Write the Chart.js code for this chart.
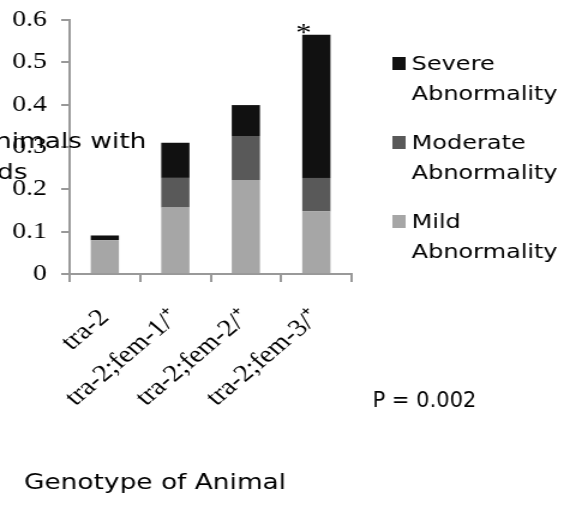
<!DOCTYPE html>
<html>
<head>
<meta charset="utf-8">
<script src="https://cdn.jsdelivr.net/npm/chart.js@4.4.1/dist/chart.umd.min.js"></script>
<style>
  html, body { margin: 0; padding: 0; background: #fff; }
  /* the canvas is drawn narrower and shown wider, like the stretched original */
  #chartGonads { display: block; width: 564px !important; height: 514px !important; }
</style>
</head>
<body>
<canvas id="chartGonads" width="470" height="514"></canvas>
<script>
// data
const genotypes = ['tra-2', 'tra-2;fem-1/⁺', 'tra-2;fem-2/⁺', 'tra-2;fem-3/⁺'];
const mild     = [0.080, 0.157, 0.222, 0.148];
const moderate = [0.000, 0.070, 0.104, 0.079];
const severe   = [0.011, 0.083, 0.073, 0.338];
const seriesNames  = ['Mild Abnormality', 'Moderate Abnormality', 'Severe Abnormality'];
const seriesColors = ['#a6a6a6', '#595959', '#111111'];
const yMin = 0, yMax = 0.6, yStep = 0.1;

const yTitle = ['Fraction of animals with', 'abnormal gonads'];
const xTitle = 'Genotype of Animal';
const pText = 'P = 0.002';
const starMark = '*';

const STRETCH = 564 / 470;
const SANS = '"DejaVu Sans", Verdana, sans-serif';
const SERIF = '"Liberation Serif", "Times New Roman", serif';

const ctx = document.getElementById('chartGonads').getContext('2d');

// texts that are not part of the axes: legend, titles, star, P value
const extras = {
  id: 'extras',
  afterDraw(chart){
    const c = chart.ctx;
    const area = chart.chartArea;
    c.save();
    c.fillStyle = '#000';
    c.textBaseline = 'alphabetic';

    // star over the last bar
    const meta = chart.getDatasetMeta(2);
    const bar = meta.data[meta.data.length - 1];
    c.font = '26px ' + SERIF;
    c.textAlign = 'center';
    c.fillText(starMark, bar.x - bar.width / 2 + 1, bar.y + 6);

    // legend, severe on top
    c.font = '20px ' + SANS;
    c.textAlign = 'left';
    const lx = area.right + 34;
    for(let k = 0; k < 3; k++){
      const i = 2 - k;
      const base = 70 + k * 79;
      c.fillStyle = seriesColors[i];
      c.fillRect(lx, base - 13, 11, 13);
      c.fillStyle = '#000';
      const words = seriesNames[i].split(' ');
      c.fillText(words[0], lx + 16, base);
      c.fillText(words[1], lx + 16, base + 30);
    }

    // y title, sits across the tick labels
    c.font = '22px ' + SANS;
    c.textAlign = 'right';
    c.fillText(yTitle[0], 122, 148);
    c.fillText(yTitle[1], 23, 178.5);

    // x title
    c.textAlign = 'left';
    c.fillText(xTitle, 20, 489);

    // P value, not stretched
    c.font = '21px ' + SANS;
    c.translate(area.right + 17.5, 406.5);
    c.scale(1 / STRETCH, 1);
    c.fillText(pText, 0, 0);
    c.restore();
  }
};

const chart = new Chart(ctx, {
  type: 'bar',
  data: {
    labels: genotypes,
    datasets: [
      { label: seriesNames[0], data: mild,     backgroundColor: seriesColors[0] },
      { label: seriesNames[1], data: moderate, backgroundColor: seriesColors[1] },
      { label: seriesNames[2], data: severe,   backgroundColor: seriesColors[2] }
    ]
  },
  options: {
    responsive: false,
    animation: false,
    devicePixelRatio: 1,
    layout: { padding: { top: 20, right: 177, bottom: 0, left: 0 } },
    datasets: { bar: { barPercentage: 0.4, categoryPercentage: 1, borderWidth: 0 } },
    scales: {
      x: {
        stacked: true,
        afterFit: s => { s.height = 240; },
        grid: { offset: true, drawOnChartArea: false, drawTicks: true, tickLength: 8, color: '#999', lineWidth: 2 },
        border: { display: true, color: '#999', width: 2 },
        ticks: { color: '#000', font: { family: SERIF, size: 24 }, minRotation: 45, maxRotation: 45, autoSkip: false, padding: 22 }
      },
      y: {
        stacked: true,
        min: yMin, max: yMax,
        afterFit: s => { s.width = 58; s.paddingTop = 8; s.paddingBottom = 8; },
        grid: { drawOnChartArea: false, drawTicks: true, tickLength: 7, color: '#999', lineWidth: 2 },
        border: { display: true, color: '#999', width: 2 },
        ticks: { stepSize: yStep, color: '#000', font: { family: SERIF, size: 23 }, padding: 12 }
      }
    },
    plugins: {
      legend: { display: false },
      tooltip: { enabled: false }
    }
  },
  plugins: [extras]
});
</script>
</body>
</html>
